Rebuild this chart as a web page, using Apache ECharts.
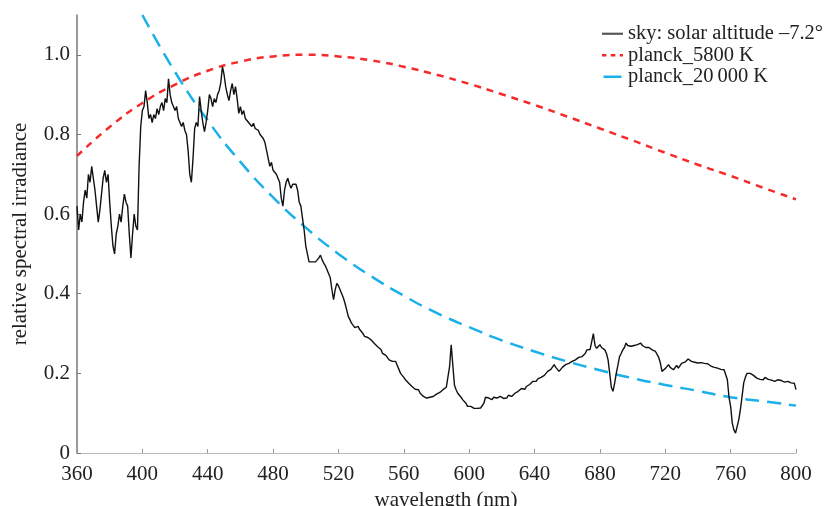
<!DOCTYPE html>
<html>
<head>
<meta charset="utf-8">
<script src="https://cdn.jsdelivr.net/npm/echarts@6/dist/echarts.min.js"></script>
<style>
  html, body { margin: 0; padding: 0; background: #fff; }
  #chart { width: 831px; height: 506px; }
</style>
</head>
<body>
<div id="chart"></div>
<script>
// sky spectrum, 1 nm steps starting at 360 nm
const skyStart = 360;
const skyValues = [
  0.62,0.56,0.60,0.58,0.63,0.66,0.64,0.70,0.68,0.72,
  0.69,0.66,0.62,0.58,0.61,0.65,0.69,0.71,0.68,0.70,
  0.63,0.57,0.52,0.50,0.55,0.57,0.60,0.58,0.62,0.65,
  0.63,0.62,0.55,0.49,0.55,0.60,0.57,0.56,0.72,0.82,
  0.86,0.87,0.91,0.88,0.84,0.85,0.83,0.85,0.84,0.865,
  0.85,0.87,0.88,0.86,0.89,0.88,0.94,0.90,0.88,0.87,
  0.86,0.87,0.84,0.83,0.82,0.83,0.81,0.80,0.76,0.70,
  0.68,0.74,0.815,0.83,0.82,0.895,0.86,0.83,0.807,0.83,
  0.86,0.90,0.89,0.87,0.89,0.88,0.90,0.91,0.93,0.97,
  0.95,0.92,0.90,0.885,0.91,0.928,0.90,0.92,0.89,0.853,
  0.87,0.85,0.86,0.84,0.845,0.83,0.83,0.82,0.828,0.815,
  0.82,0.81,0.80,0.805,0.79,0.78,0.76,0.755,0.72,0.73,
  0.71,0.715,0.70,0.69,0.68,0.64,0.62,0.66,0.68,0.69,
  0.675,0.665,0.675,0.67,0.675,0.66,0.63,0.62,0.59,0.56,
  0.52,0.50,0.48,0.485,0.48,0.478,0.48,0.477,0.49,0.497,
  0.485,0.477,0.47,0.46,0.45,0.44,0.41,0.385,0.41,0.426,
  0.42,0.41,0.40,0.39,0.376,0.36,0.343,0.335,0.326,0.33,
  0.315,0.31,0.318,0.31,0.313,0.30,0.293,0.295,0.29,0.288,
  0.284,0.28,0.275,0.27,0.267,0.262,0.26,0.25,0.252,0.245,
  0.24,0.234,0.236,0.23,0.226,0.23,0.22,0.21,0.20,0.195,
  0.19,0.184,0.18,0.175,0.17,0.167,0.165,0.16,0.162,0.159,
  0.15,0.145,0.142,0.145,0.138,0.134,0.14,0.136,0.142,0.14,
  0.148,0.15,0.152,0.155,0.159,0.16,0.165,0.17,0.217,0.272,
  0.22,0.17,0.159,0.15,0.148,0.14,0.134,0.13,0.125,0.117,
  0.12,0.117,0.115,0.112,0.109,0.112,0.115,0.113,0.11,0.125,
  0.14,0.142,0.138,0.135,0.134,0.14,0.135,0.138,0.142,0.142,
  0.14,0.137,0.14,0.138,0.145,0.14,0.142,0.142,0.15,0.145,
  0.155,0.159,0.162,0.163,0.16,0.167,0.17,0.172,0.175,0.18,
  0.175,0.18,0.186,0.184,0.19,0.188,0.195,0.192,0.205,0.20,
  0.21,0.215,0.222,0.215,0.21,0.205,0.21,0.215,0.218,0.222,
  0.22,0.225,0.228,0.23,0.232,0.234,0.238,0.24,0.236,0.242,
  0.245,0.25,0.259,0.255,0.26,0.259,0.30,0.27,0.263,0.268,
  0.272,0.265,0.262,0.259,0.25,0.234,0.20,0.165,0.155,0.175,
  0.20,0.22,0.242,0.25,0.259,0.265,0.276,0.27,0.274,0.268,
  0.263,0.27,0.268,0.272,0.27,0.276,0.27,0.268,0.265,0.263,
  0.265,0.26,0.259,0.258,0.255,0.251,0.24,0.226,0.205,0.20,
  0.212,0.215,0.222,0.215,0.21,0.209,0.212,0.22,0.213,0.218,
  0.225,0.23,0.228,0.232,0.236,0.232,0.23,0.235,0.228,0.232,
  0.226,0.23,0.227,0.222,0.225,0.222,0.224,0.219,0.218,0.217,
  0.215,0.218,0.213,0.213,0.21,0.212,0.209,0.205,0.184,0.14,
  0.117,0.075,0.058,0.05,0.046,0.084,0.11,0.142,0.176,0.19,
  0.20,0.205,0.20,0.205,0.195,0.19,0.188,0.19,0.185,0.188,
  0.184,0.19,0.186,0.185,0.188,0.183,0.185,0.18,0.18,0.184,
  0.18,0.182,0.18,0.178,0.182,0.18,0.18,0.176,0.18,0.175,
  0.159
];

// planck curves read every 20 nm
const planckNm = [360,380,400,420,440,460,480,500,520,540,560,580,600,620,640,660,680,700,720,740,760,780,800];
const planck5800 = [0.746,0.819,0.879,0.925,0.960,0.983,0.996,1.0,0.996,0.986,0.970,0.950,0.927,0.901,0.874,0.845,0.815,0.785,0.754,0.724,0.696,0.666,0.637];
const planck20000 = [null,null,1.10,0.957,0.835,0.731,0.642,0.566,0.500,0.444,0.395,0.352,0.316,0.283,0.255,0.230,0.208,0.188,0.171,0.156,0.140,0.130,0.119];

const xTicks = [360,400,440,480,520,560,600,640,680,720,760,800];
const yTicks = [0,0.2,0.4,0.6,0.8,1.0];

const skyName = 'sky: solar altitude \u20137.2\u00b0';
const p58Name = 'planck_5800 K';
const p20Name = 'planck_20\u2009000 K';

const font = 'Liberation Serif';

const chart = echarts.init(document.getElementById('chart'));

chart.setOption({
    animation: false,
    backgroundColor: '#fff',
    grid: { left: 77, right: 35, top: 15, bottom: 53, outerBoundsMode: 'none', containLabel: false },
    legend: {
        orient: 'vertical',
        left: 602,
        top: 23,
        padding: 0,
        itemWidth: 21,
        itemHeight: 2.5,
        itemGap: 0,
        textStyle: { fontFamily: font, fontSize: 20.5, color: '#222', lineHeight: 21.5 },
        data: [
            { name: skyName, icon: 'path://M0,0H19.5V2H0Z', itemStyle: { color: '#555' } },
            { name: p58Name, icon: 'path://M0,0H4.4V2.5H0Z M8.7,0H13.4V2.5H8.7Z M17.7,0H21V2.5H17.7Z', itemStyle: { color: '#f52a2a' } },
            { name: p20Name, icon: 'path://M0,0H18V2.5H0Z', itemStyle: { color: '#1ab0e8' } }
        ]
    },
    xAxis: {
        type: 'value',
        min: 360,
        max: 800,
        interval: 40,
        name: 'wavelength (nm)',
        nameLocation: 'middle',
        nameGap: 32,
        nameTextStyle: { fontFamily: font, fontSize: 21, color: '#222', padding: [0, 0, 0, 19] },
        axisLine: { lineStyle: { color: '#bbb', width: 1 } },
        axisTick: { inside: true, length: 4, lineStyle: { color: '#999' }, customValues: xTicks },
        axisLabel: { fontFamily: font, fontSize: 21, color: '#222', margin: 11, customValues: xTicks },
        splitLine: { show: false }
    },
    yAxis: {
        type: 'value',
        min: 0,
        max: 1.1,
        interval: 0.2,
        name: 'relative spectral irradiance',
        nameLocation: 'middle',
        nameGap: 46,
        nameTextStyle: { fontFamily: font, fontSize: 21, color: '#222' },
        axisLine: { show: true, lineStyle: { color: '#777', width: 1.5 } },
        axisTick: { show: true, inside: true, length: 4, lineStyle: { color: '#777' }, customValues: yTicks },
        axisLabel: {
            fontFamily: font, fontSize: 21, color: '#222', margin: 7,
            customValues: yTicks,
            formatter: v => v === 0 ? '0' : v.toFixed(1)
        },
        splitLine: { show: false }
    },
    series: [
        {
            name: skyName,
            type: 'line',
            symbol: 'none',
            data: skyValues.map((v, i) => [skyStart + i, v]),
            lineStyle: { color: '#111', width: 1.4 },
            itemStyle: { color: '#555' },
            z: 3
        },
        {
            name: p58Name,
            type: 'line',
            symbol: 'none',
            smooth: true,
            data: planckNm.map((x, i) => [x, planck5800[i]]),
            lineStyle: { color: '#f52a2a', width: 2.5, type: [7, 6] },
            itemStyle: { color: '#f52a2a' },
            z: 2
        },
        {
            name: p20Name,
            type: 'line',
            symbol: 'none',
            smooth: true,
            data: planckNm.map((x, i) => [x, planck20000[i]]),
            lineStyle: { color: '#1ab0e8', width: 2.5, type: [14, 8] },
            itemStyle: { color: '#1ab0e8' },
            z: 2
        }
    ]
});
</script>
</body>
</html>
